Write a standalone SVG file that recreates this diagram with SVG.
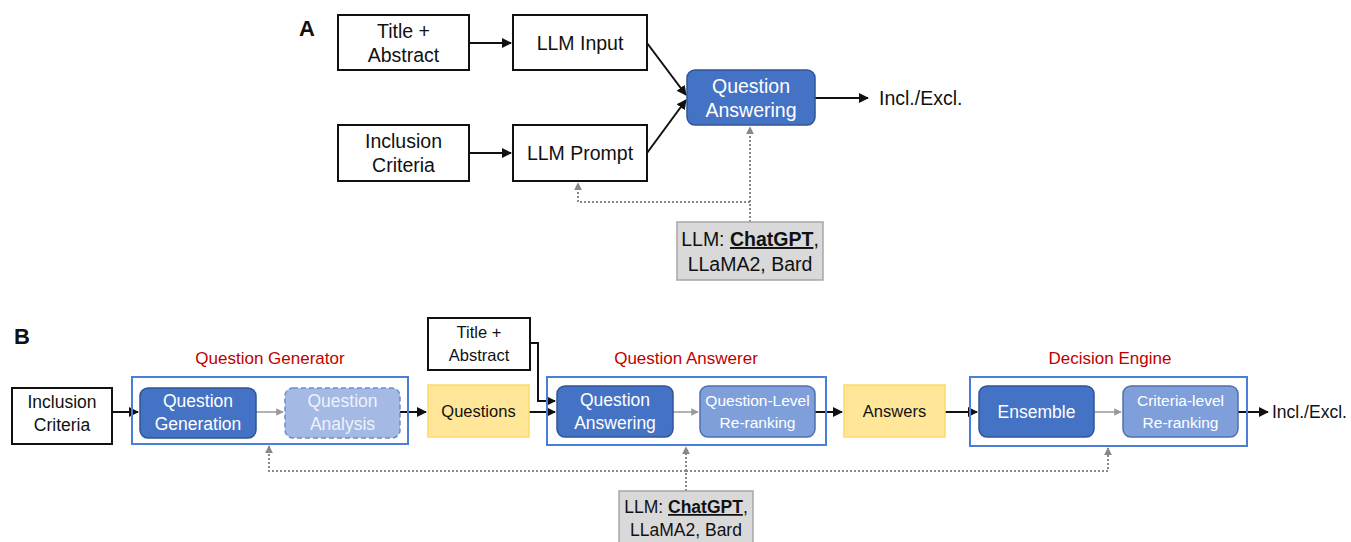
<svg xmlns="http://www.w3.org/2000/svg" width="1351" height="542" viewBox="0 0 1351 542">
<defs>
<style>
text{font-family:"Liberation Sans",Arial,sans-serif;fill:#111;}
.t{font-size:19.5px;text-anchor:middle;}
.tb{font-size:17.5px;text-anchor:middle;}
.ts{font-size:16.5px;text-anchor:middle;}
.w{fill:#fff;}
.wl{fill:#eef2fb;}
.box{fill:#fff;stroke:#111;stroke-width:2;}
.dk{fill:#4472c4;stroke:#2f5597;stroke-width:1.5;}
.lt{fill:#a4b9e4;stroke:#6d8ccc;stroke-width:1.5;stroke-dasharray:5,3;}
.md{fill:#7f9fdb;stroke:#4f6fb0;stroke-width:1.5;}
.yl{fill:#ffe699;stroke:#ffd966;stroke-width:1.5;}
.gr{fill:#d9d9d9;stroke:#a6a6a6;stroke-width:1.5;}
.grp{fill:none;stroke:#4a7fd9;stroke-width:2;}
.red{fill:#c00000;font-size:17px;text-anchor:middle;}
.c{fill:none;stroke:#111;stroke-width:2;}
.cg{fill:none;stroke:#999;stroke-width:1.5;}
.cd{fill:none;stroke:#888;stroke-width:2;stroke-dasharray:2,2;}
</style>
<marker id="ab" viewBox="0 0 10 10" refX="9" refY="5" markerWidth="5" markerHeight="5" orient="auto"><path d="M0,0L10,5L0,10z" fill="#111"/></marker>
<marker id="ag" viewBox="0 0 10 10" refX="9" refY="5" markerWidth="5" markerHeight="5" orient="auto"><path d="M0,0L10,5L0,10z" fill="#999"/></marker>
<marker id="ad" viewBox="0 0 10 10" refX="9" refY="5" markerWidth="4" markerHeight="4" orient="auto"><path d="M0,0L10,5L0,10z" fill="#888"/></marker>
</defs>

<text x="299" y="36" font-size="22" font-weight="bold">A</text>
<text x="14" y="344" font-size="22" font-weight="bold">B</text>

<g id="connectors">
<!-- A -->
<line class="c" x1="469" y1="43" x2="511" y2="43" marker-end="url(#ab)"/>
<line class="c" x1="469" y1="153" x2="511" y2="153" marker-end="url(#ab)"/>
<line class="c" x1="647" y1="43" x2="686" y2="95" marker-end="url(#ab)"/>
<line class="c" x1="647" y1="153" x2="686" y2="100" marker-end="url(#ab)"/>
<line class="c" x1="815" y1="98" x2="868" y2="98" marker-end="url(#ab)"/>
<line class="cd" x1="750" y1="222" x2="750" y2="127" marker-end="url(#ad)"/>
<polyline class="cd" points="750,202 578,202 578,183" marker-end="url(#ad)"/>
<!-- B -->
<line class="c" x1="112" y1="412" x2="138" y2="412" marker-end="url(#ab)"/>
<line class="cg" x1="256" y1="412" x2="283" y2="412" marker-end="url(#ag)"/>
<line class="c" x1="400" y1="412" x2="426" y2="412" marker-end="url(#ab)"/>
<line class="c" x1="529" y1="412" x2="555" y2="412" marker-end="url(#ab)"/>
<polyline class="c" points="530,343 538,343 538,401 555,401" marker-end="url(#ab)"/>
<line class="cg" x1="673" y1="412" x2="698" y2="412" marker-end="url(#ag)"/>
<line class="c" x1="815" y1="412" x2="842" y2="412" marker-end="url(#ab)"/>
<line class="c" x1="945" y1="412" x2="977" y2="412" marker-end="url(#ab)"/>
<line class="cg" x1="1094" y1="412" x2="1121" y2="412" marker-end="url(#ag)"/>
<line class="c" x1="1238" y1="412" x2="1268" y2="412" marker-end="url(#ab)"/>
<line class="cd" x1="686" y1="491" x2="686" y2="447" marker-end="url(#ad)"/>
<polyline class="cd" points="686,471 269,471 269,446" marker-end="url(#ad)"/>
<polyline class="cd" points="686,471 1108,471 1108,448" marker-end="url(#ad)"/>
</g>

<!-- Panel A nodes -->
<g id="a-title">
<rect class="box" x="338" y="15" width="131" height="55"/>
<text class="t" x="403.5" y="38">Title +</text>
<text class="t" x="403.5" y="62">Abstract</text>
</g>
<g id="a-input">
<rect class="box" x="513" y="15" width="134" height="55"/>
<text class="t" x="580" y="50">LLM Input</text>
</g>
<g id="a-incl">
<rect class="box" x="338" y="125" width="131" height="56"/>
<text class="t" x="403.5" y="148">Inclusion</text>
<text class="t" x="403.5" y="172">Criteria</text>
</g>
<g id="a-prompt">
<rect class="box" x="513" y="125" width="134" height="56"/>
<text class="t" x="580" y="160">LLM Prompt</text>
</g>
<g id="a-qa">
<rect class="dk" x="687" y="70" width="128" height="55" rx="8"/>
<text class="t w" x="751" y="93">Question</text>
<text class="t w" x="751" y="117">Answering</text>
</g>
<g id="a-out">
<text x="879" y="105" font-size="19.5">Incl./Excl.</text>
</g>
<g id="a-llm">
<rect class="gr" x="677" y="222" width="146" height="58"/>
<text class="t" x="750" y="246">LLM: <tspan font-weight="bold" text-decoration="underline">ChatGPT</tspan>,</text>
<text class="t" x="750" y="271">LLaMA2, Bard</text>
</g>

<!-- Panel B nodes -->
<g id="b-incl">
<rect class="box" x="12" y="388" width="100" height="56"/>
<text class="tb" x="62" y="408">Inclusion</text>
<text class="tb" x="62" y="431">Criteria</text>
</g>
<g id="b-qgen-group">
<rect class="grp" x="132" y="377" width="276" height="67"/>
<text class="red" x="270" y="364">Question Generator</text>
</g>
<g id="b-qgen">
<rect class="dk" x="140" y="388" width="116" height="50" rx="8"/>
<text class="tb w" x="198" y="407">Question</text>
<text class="tb w" x="198" y="430">Generation</text>
</g>
<g id="b-qana">
<rect class="lt" x="285" y="388" width="115" height="50" rx="8"/>
<text class="tb wl" x="342.5" y="407">Question</text>
<text class="tb wl" x="342.5" y="430">Analysis</text>
</g>
<g id="b-questions">
<rect class="yl" x="428" y="385" width="101" height="52"/>
<text class="ts" x="478.5" y="417">Questions</text>
</g>
<g id="b-title">
<rect class="box" x="428" y="318" width="102" height="52"/>
<text class="ts" x="479" y="338">Title +</text>
<text class="ts" x="479" y="361">Abstract</text>
</g>
<g id="b-qans-group">
<rect class="grp" x="547" y="377" width="279" height="68"/>
<text class="red" x="686" y="364">Question Answerer</text>
</g>
<g id="b-qa">
<rect class="dk" x="557" y="386" width="116" height="51" rx="8"/>
<text class="tb w" x="615" y="406">Question</text>
<text class="tb w" x="615" y="429">Answering</text>
</g>
<g id="b-qrr">
<rect class="md" x="700" y="386" width="115" height="51" rx="8"/>
<text class="w" x="757.5" y="406" font-size="15.5" text-anchor="middle">Question-Level</text>
<text class="w" x="757.5" y="428" font-size="15.5" text-anchor="middle">Re-ranking</text>
</g>
<g id="b-answers">
<rect class="yl" x="844" y="385" width="101" height="52"/>
<text class="ts" x="894.5" y="417">Answers</text>
</g>
<g id="b-de-group">
<rect class="grp" x="970" y="377" width="277" height="69"/>
<text class="red" x="1110" y="364">Decision Engine</text>
</g>
<g id="b-ens">
<rect class="dk" x="979" y="386" width="115" height="51" rx="8"/>
<text class="tb w" x="1036.5" y="418">Ensemble</text>
</g>
<g id="b-crr">
<rect class="md" x="1123" y="386" width="115" height="51" rx="8"/>
<text class="w" x="1180.5" y="406" font-size="15.5" text-anchor="middle">Criteria-level</text>
<text class="w" x="1180.5" y="428" font-size="15.5" text-anchor="middle">Re-ranking</text>
</g>
<g id="b-out">
<text x="1272" y="418" font-size="17.5">Incl./Excl.</text>
</g>
<g id="b-llm">
<rect class="gr" x="619" y="491" width="134" height="55"/>
<text class="tb" x="686" y="513">LLM: <tspan font-weight="bold" text-decoration="underline">ChatGPT</tspan>,</text>
<text class="tb" x="686" y="536">LLaMA2, Bard</text>
</g>
</svg>
